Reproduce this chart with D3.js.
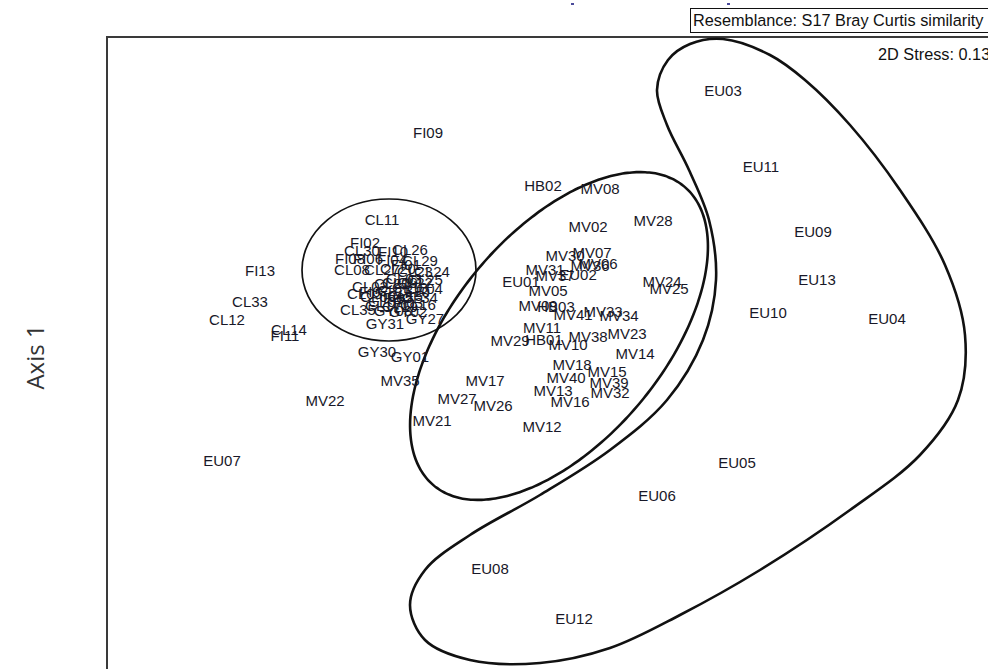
<!DOCTYPE html>
<html>
<head>
<meta charset="utf-8">
<script src="https://cdn.jsdelivr.net/npm/d3@7"></script>
<style>
  html, body { margin: 0; padding: 0; background: #fff; }
  svg { display: block; }
</style>
</head>
<body>
<svg id="chart" width="988" height="669"></svg>
<script>
// nMDS ordination of samples (Bray-Curtis resemblance)
const sampleIds = [
  "FI09","EU03","EU11","HB02","MV08","MV02","MV28","CL11","EU09","FI13",
  "EU13","CL33","CL12","CL14","FI11","EU10","EU04","GY30","GY01","MV35",
  "MV22","MV17","MV27","MV26","MV21","MV12","EU07","EU05","EU06","EU08","EU12",
  "FI02","CL30","FI10","CL26","FI08","FI06","FI04","CL29","CL08","CL20",
  "CL23","CL24","CL03","CL25","CL02","CL21","CL18","CL04","CL05","CL06",
  "FI05","CL34","CL07","FI03","CL35","GY03","GY31","GY27",
  "CL09","CL10","CL13","CL15","CL16","CL17","CL19","CL22","CL27","FI01","FI07","GY02",
  "MV07","MV30","MV06","MV36","MV31","EU02","MV37","EU01","MV05","MV24",
  "MV25","MV09","HB03","MV41","MV33","MV34","MV11","MV29","HB01","MV10",
  "MV38","MV23","MV14","MV18","MV40","MV15","MV39","MV13","MV32","MV16"
];
const mdsX = [
  -1.19, 1.76, 2.14,-0.04, 0.53, 0.41, 1.06,-1.65, 2.66,-2.87,
   2.70,-2.97,-3.20,-2.58,-2.62, 2.21, 3.40,-1.70,-1.37,-1.47,
  -2.22,-0.62,-0.90,-0.54,-1.15,-0.05,-3.25, 1.90, 1.10,-0.57, 0.27,
  -1.82,-1.85,-1.54,-1.37,-1.97,-1.79,-1.55,-1.27,-1.95,-1.49,
  -1.32,-1.15,-1.43,-1.22,-1.77,-1.55,-1.37,-1.22,-1.82,-1.69,
  -1.49,-1.27,-1.61,-1.39,-1.89,-1.54,-1.62,-1.22,
  -1.47,-1.35,-1.52,-1.42,-1.29,-1.64,-1.47,-1.32,-1.65,-1.41,-1.73,-1.39,
   0.45, 0.18, 0.51, 0.43,-0.02, 0.31, 0.08,-0.26, 0.01, 1.15,
   1.22,-0.09, 0.09, 0.26, 0.56, 0.72,-0.05,-0.37,-0.03, 0.21,
   0.41, 0.80, 0.88, 0.25, 0.19, 0.60, 0.62, 0.06, 0.63, 0.23
];
const mdsY = [
   2.17, 2.59, 1.83, 1.64, 1.61, 1.23, 1.29, 1.30, 1.18, 0.79,
   0.70, 0.48, 0.30, 0.20, 0.14, 0.37, 0.31,-0.02,-0.07,-0.31,
  -0.51,-0.31,-0.49,-0.56,-0.71,-0.77,-1.11,-1.13,-1.46,-2.19,-2.69,
   1.07, 0.99, 0.98, 1.00, 0.91, 0.91, 0.90, 0.89, 0.80, 0.81,
   0.78, 0.78, 0.71, 0.70, 0.63, 0.66, 0.62, 0.61, 0.56, 0.53,
   0.52, 0.52, 0.48, 0.47, 0.40, 0.39, 0.26, 0.31,
   0.67, 0.58, 0.59, 0.54, 0.45, 0.44, 0.43, 0.67, 0.80, 0.85, 0.58, 0.38,
   0.97, 0.94, 0.86, 0.84, 0.80, 0.75, 0.74, 0.68, 0.59, 0.68,
   0.61, 0.44, 0.43, 0.35, 0.38, 0.34, 0.22, 0.09, 0.10, 0.05,
   0.13, 0.16,-0.04,-0.15,-0.28,-0.22,-0.33,-0.41,-0.43,-0.52
];

// Group outlines (ordination units)
const clusterCircle = { cx: -1.58, cy: 0.80, rx: 0.87, ry: 0.71 };
const mvEllipse = { cx: 0.12, cy: 0.14, a: 1.95, b: 1.05, angle: 50 };
const euHullX = [1.76, 2.23, 2.58, 3.03, 3.53, 3.98, 4.18, 4.11, 3.73, 3.03, 2.13, 1.33, 0.63,-0.07,-0.77,-1.22,-1.37,-1.22,-0.77,-0.07, 0.63, 1.20, 1.56, 1.69, 1.62, 1.42, 1.20, 1.10, 1.21, 1.43];
const euHullY = [3.11, 2.95, 2.70, 2.25, 1.60, 0.85, 0.15,-0.50,-1.05,-1.60,-2.20,-2.65,-2.98,-3.13,-3.10,-2.90,-2.55,-2.20,-1.85,-1.45,-1.00,-0.50, 0.10, 0.70, 1.30, 1.80, 2.25, 2.60, 2.90, 3.06];

const resemblanceText = "Resemblance: S17 Bray Curtis similarity";
const stressText = "2D Stress: 0.13";
const yAxisTitle = "Axis 1";

const svg = d3.select("#chart");
const W = 988, H = 669;
const frame = { left: 107, top: 37 };

const x = d3.scaleLinear().domain([-4.4, 4.4]).range([107, 987]);
const y = d3.scaleLinear().domain([-3.5, 3.5]).range([700, 0]);

// plot frame (runs off the right and bottom edges)
svg.append("rect")
  .attr("x", frame.left).attr("y", frame.top)
  .attr("width", W + 40 - frame.left).attr("height", H + 40 - frame.top)
  .attr("fill", "none").attr("stroke", "#3a3a3a").attr("stroke-width", 2);

// small marks above the frame
svg.append("rect").attr("x", 571).attr("y", 3).attr("width", 3).attr("height", 2).attr("fill", "#4a4a9a");
svg.append("rect").attr("x", 727).attr("y", 3).attr("width", 3).attr("height", 2).attr("fill", "#4a4a9a");

// resemblance caption box
svg.append("rect")
  .attr("x", 690.5).attr("y", 8.5).attr("width", 320).attr("height", 24)
  .attr("fill", "#fff").attr("stroke", "#111").attr("stroke-width", 1);
svg.append("text")
  .attr("x", 693).attr("y", 26)
  .attr("font-family", "Liberation Sans, Arial, sans-serif")
  .attr("font-size", 16.3).attr("fill", "#111")
  .text(resemblanceText);

svg.append("text")
  .attr("x", 878).attr("y", 60)
  .attr("font-family", "Liberation Sans, Arial, sans-serif")
  .attr("font-size", 16.3).attr("fill", "#111")
  .text(stressText);

// y axis title
svg.append("text")
  .attr("transform", "translate(44,357) rotate(-90)")
  .attr("text-anchor", "middle")
  .attr("font-family", "Open Sans, sans-serif")
  .attr("font-size", 24).attr("fill", "#333")
  .text(yAxisTitle);

// outlines
const kx = x(1) - x(0), ky = y(0) - y(1);
svg.append("ellipse")
  .attr("cx", x(clusterCircle.cx)).attr("cy", y(clusterCircle.cy))
  .attr("rx", clusterCircle.rx * kx).attr("ry", clusterCircle.ry * ky)
  .attr("fill", "none").attr("stroke", "#111").attr("stroke-width", 1.7);

const phi = mvEllipse.angle * Math.PI / 180;
const ellPts = d3.range(0, 2 * Math.PI, Math.PI / 90).map(t => [
  mvEllipse.cx + mvEllipse.a * Math.cos(t) * Math.cos(phi) - mvEllipse.b * Math.sin(t) * Math.sin(phi),
  mvEllipse.cy + mvEllipse.a * Math.cos(t) * Math.sin(phi) + mvEllipse.b * Math.sin(t) * Math.cos(phi)
]);
const lineClosed = d3.line().x(d => x(d[0])).y(d => y(d[1])).curve(d3.curveCatmullRomClosed.alpha(0.5));
svg.append("path").attr("d", lineClosed(ellPts))
  .attr("fill", "none").attr("stroke", "#111").attr("stroke-width", 2.6);

const hullPts = euHullX.map((v, i) => [v, euHullY[i]]);
svg.append("path").attr("d", lineClosed(hullPts))
  .attr("fill", "none").attr("stroke", "#111").attr("stroke-width", 2.6);

// sample labels
svg.append("g")
  .selectAll("text")
  .data(sampleIds.map((id, i) => ({ id, x: mdsX[i], y: mdsY[i] })))
  .join("text")
  .attr("x", d => x(d.x)).attr("y", d => y(d.y))
  .attr("dy", "0.36em")
  .attr("text-anchor", "middle")
  .attr("font-family", "Liberation Sans, Arial, sans-serif")
  .attr("font-size", 15)
  .attr("fill", "#181828")
  .text(d => d.id);
</script>
</body>
</html>
